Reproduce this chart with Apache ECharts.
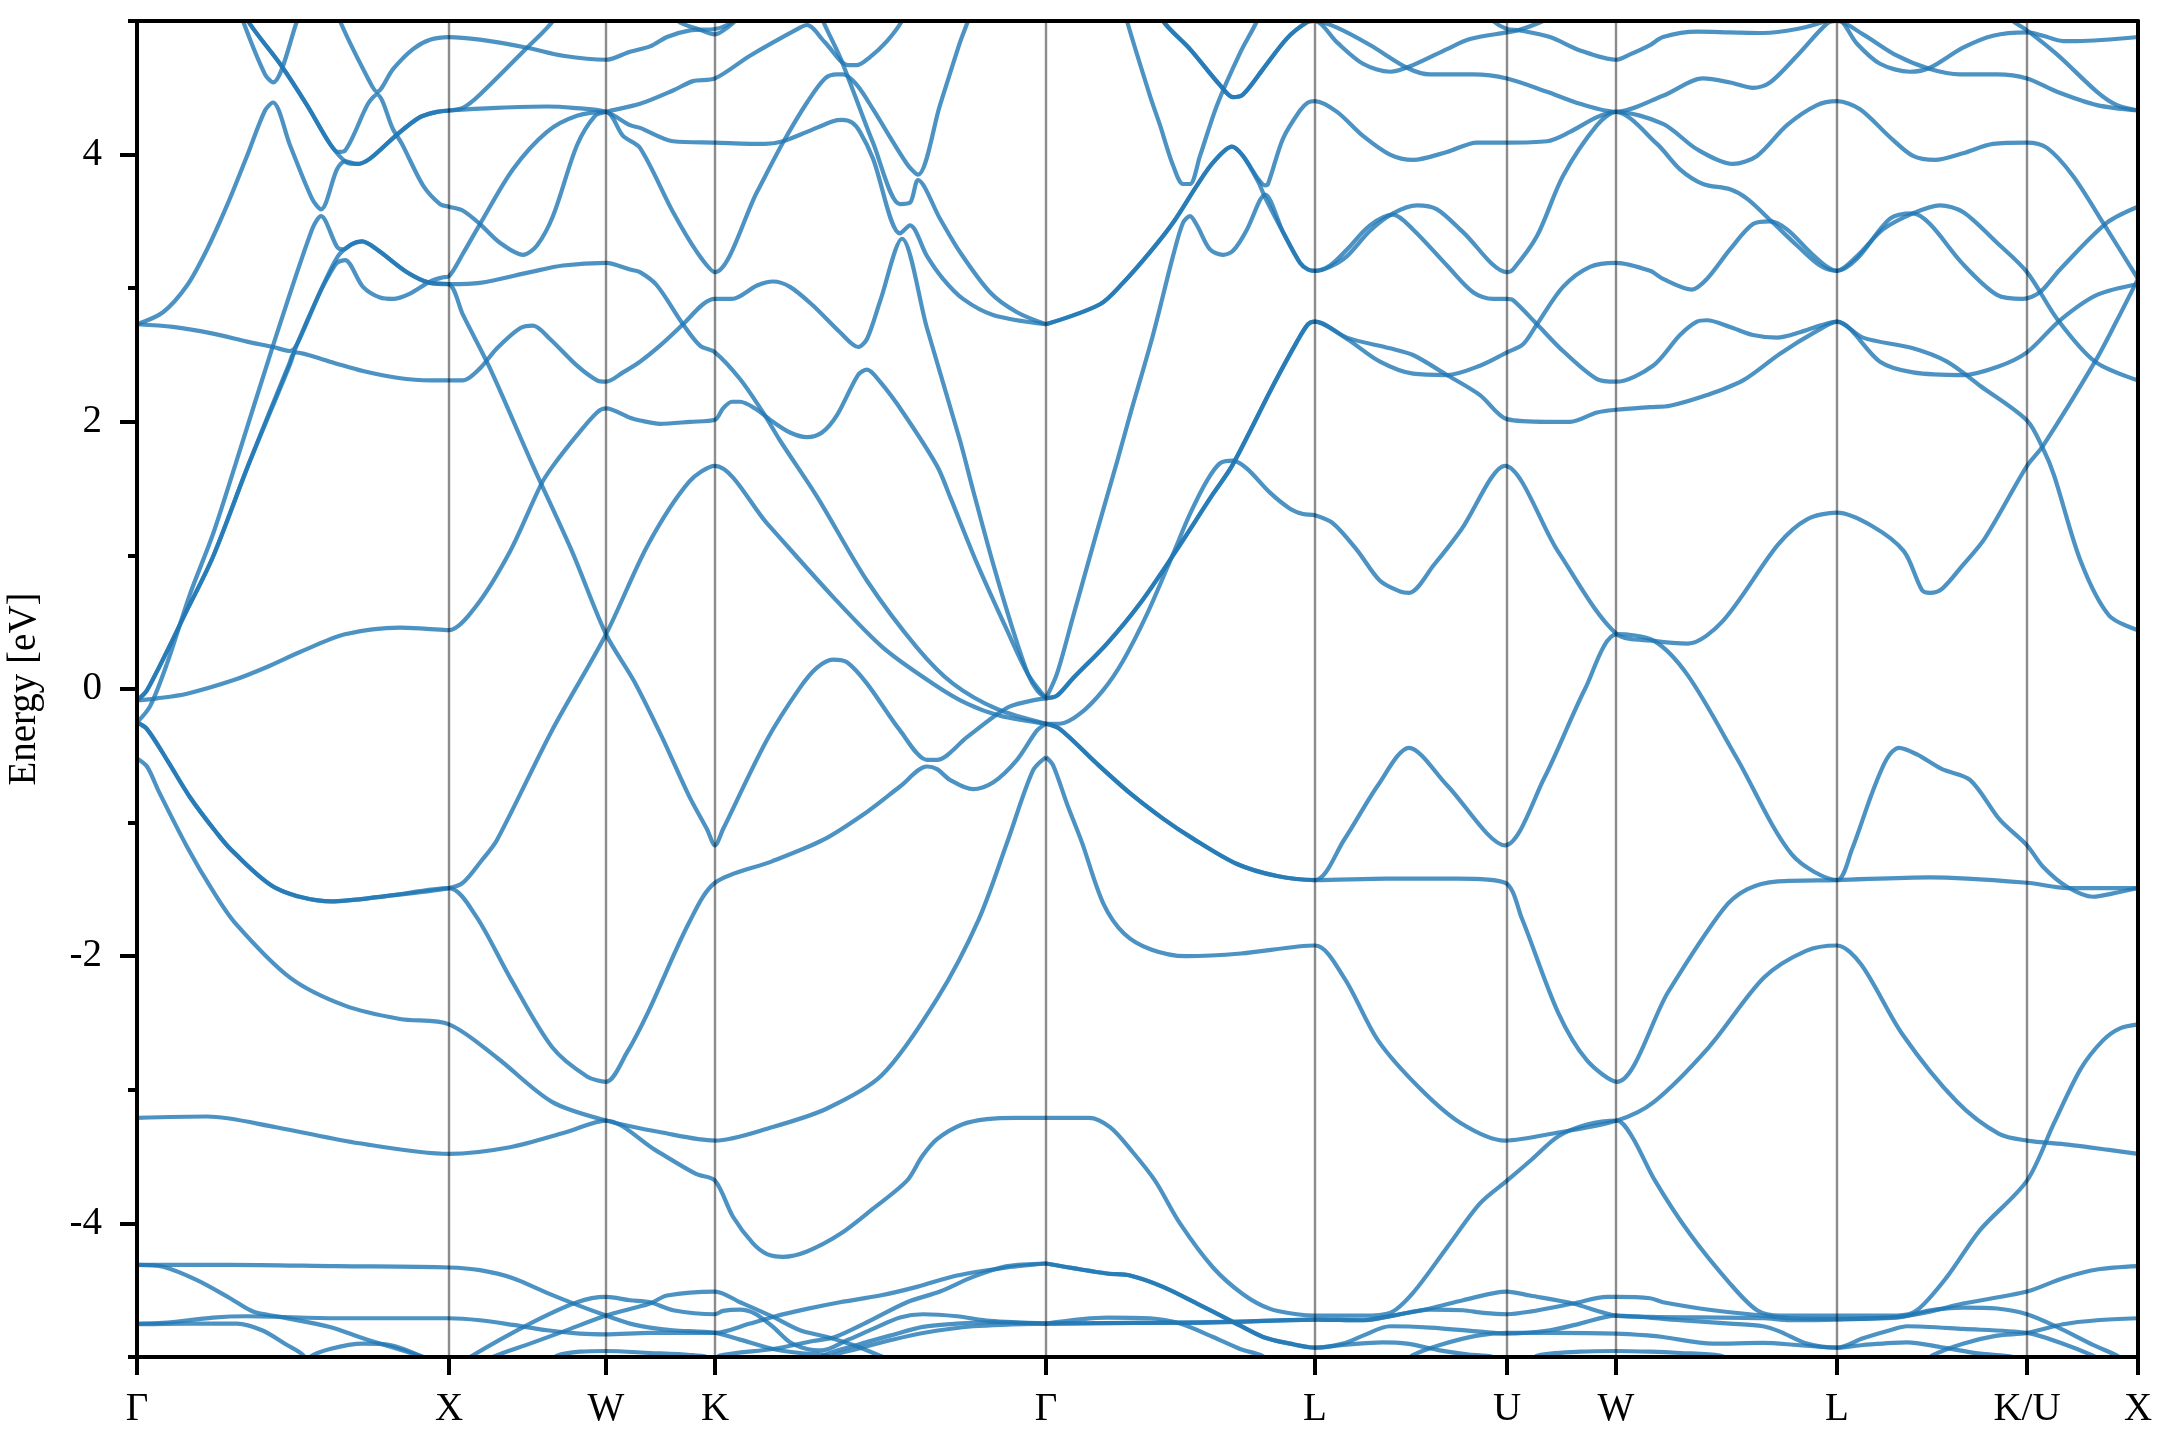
<!DOCTYPE html>
<html><head><meta charset="utf-8">
<style>html,body{margin:0;padding:0;background:#fff}#c{width:2160px;height:1440px}</style>
<script src="https://cdn.jsdelivr.net/npm/echarts@6/dist/echarts.min.js"></script>
</head><body><div id="c"></div>
<script>
// high-symmetry points along the k-path (path distance, arbitrary units)
const pathTicks = [0,312,469,578,909,1178,1370,1479,1700,1890,2001];
const pathLabels = ['Γ','X','W','K','Γ','L','U','W','L','K/U','X'];
const energyMajor = [-4,-2,0,2,4];
const energyMinor = [-5,-3,-1,1,3,5];

// ---- Γ → X → W → K → Γ : upper bands ----
const a01 = [[190,5.3],[203,5.0],[231,4.57],[240,4.47],[256,4.64],[276,4.79],[293,4.86],[312,4.88],[343,4.86],[390,4.80],[426,4.74],[469,4.71],[493,4.77],[513,4.81],[530,4.88],[553,4.93],[578,4.94],[590,4.97],[605,5.05]];
const a02 = [[100,5.2],[111,5.0],[143,4.68],[170,4.37],[193,4.08],[210,3.94],[220,3.93],[233,3.97],[260,4.15],[283,4.28],[300,4.32],[312,4.33],[326,4.35],[343,4.45],[390,4.80],[416,5.0],[430,5.2]];
const a03 = [[530,5.15],[541,5.0],[561,4.94],[578,4.90],[592,4.96],[605,5.05]];
const a04 = [[100,5.2],[111,5.0],[143,4.68],[170,4.37],[193,4.08],[201,4.02],[208,4.03],[231,4.38],[240,4.45],[256,4.19],[265,4.08],[286,3.77],[303,3.63],[312,3.61],[326,3.58],[343,3.48],[363,3.34],[386,3.25],[400,3.32],[416,3.54],[440,4.07],[458,4.29],[469,4.32],[503,4.38],[536,4.48],[556,4.55],[578,4.57],[613,4.74],[663,4.95],[670,4.97],[688,4.84],[711,4.67],[720,4.67],[733,4.73],[750,4.85],[765,5.0],[778,5.2]];
const a05 = [[0,2.73],[26,2.82],[50,3.02],[70,3.29],[90,3.62],[110,3.99],[128,4.33],[136,4.39],[153,4.07],[175,3.67],[184,3.59],[200,3.89],[208,3.95],[220,3.93],[233,3.97],[260,4.15],[283,4.28],[300,4.32],[312,4.33],[360,4.35],[410,4.36],[436,4.35],[469,4.32],[493,4.22],[503,4.20],[536,4.10],[578,4.09],[628,4.08],[646,4.10],[670,4.17],[696,4.25],[705,4.26],[715,4.24],[723,4.17],[736,3.97],[763,3.41],[773,3.47],[790,3.24],[806,3.07],[826,2.92],[856,2.80],[909,2.73]];
const a06 = [[0,-0.085],[10,-0.01],[50,0.59],[76,0.99],[111,1.67],[153,2.43],[160,2.58],[183,2.97],[193,3.11],[200,3.19],[208,3.21],[226,3.01],[243,2.93],[256,2.92],[273,2.96],[293,3.05],[305,3.08],[312,3.09],[326,3.26],[343,3.48],[376,3.89],[410,4.17],[440,4.29],[469,4.32],[486,4.14],[503,4.05],[536,3.57],[560,3.27],[578,3.12],[620,3.72],[646,4.09],[670,4.39],[688,4.57],[700,4.60],[706,4.60],[720,4.52],[736,4.34],[770,3.93],[781,3.85],[803,4.37],[823,4.84],[831,5.0],[845,5.3]];
const a07 = [[0,-0.085],[10,-0.01],[50,0.59],[76,0.99],[111,1.67],[153,2.45],[158,2.52],[193,2.45],[226,2.38],[260,2.33],[293,2.31],[312,2.31],[326,2.31],[343,2.40],[360,2.55],[383,2.70],[396,2.72],[413,2.62],[440,2.42],[460,2.31],[469,2.30],[486,2.37],[503,2.45],[523,2.57],[546,2.73],[566,2.88],[578,2.92],[586,2.92],[595,2.92],[620,3.02],[636,3.05],[653,3.01],[676,2.87],[703,2.67],[721,2.56],[730,2.62],[743,2.90],[765,3.37],[790,2.70],[823,1.86],[836,1.49],[856,0.94],[876,0.44],[891,0.11],[900,-0.01],[909,-0.07]];
const a08 = [[0,-0.25],[13,-0.13],[30,0.19],[53,0.71],[76,1.16],[98,1.67],[136,2.57],[175,3.44],[184,3.54],[200,3.31],[206,3.29],[215,3.33],[225,3.35],[240,3.29],[270,3.12],[293,3.04],[312,3.03],[343,3.04],[393,3.12],[426,3.17],[469,3.19],[493,3.14],[503,3.12],[520,3.02],[546,2.73],[563,2.57],[578,2.52],[603,2.32],[626,2.07],[643,1.86],[680,1.44],[730,0.81],[780,0.31],[816,0.04],[860,-0.15],[909,-0.26]];
const a09 = [[0,2.73],[36,2.71],[76,2.66],[110,2.60],[136,2.56],[153,2.53],[160,2.58],[183,2.97],[201,3.24],[215,3.33],[225,3.35],[240,3.29],[270,3.12],[293,3.04],[312,3.03],[326,2.80],[353,2.40],[396,1.67],[435,1.03],[469,0.41],[497,0.06],[525,-0.36],[552,-0.80],[570,-1.05],[578,-1.17],[586,-1.05],[630,-0.38],[663,0.01],[680,0.16],[696,0.22],[710,0.20],[730,0.04],[763,-0.31],[790,-0.53],[800,-0.53],[830,-0.36],[858,-0.20],[873,-0.13],[896,-0.085],[909,-0.07]];
const a10 = [[98,5.2],[106,5.0],[128,4.60],[136,4.54],[160,5.0],[168,5.2]];
const a11 = [[670,5.3],[686,5.0],[703,4.73],[716,4.48],[736,4.09],[763,3.63],[773,3.64],[781,3.81],[803,3.52],[823,3.27],[853,2.97],[880,2.82],[909,2.73]];
const a12 = [[0,-0.085],[20,-0.07],[50,-0.035],[96,0.065],[130,0.165],[163,0.277],[208,0.41],[263,0.46],[290,0.45],[312,0.44],[339,0.62],[373,1.03],[404,1.53],[416,1.67],[440,1.90],[460,2.07],[469,2.10],[493,2.03],[503,2.01],[523,1.985],[553,2.0],[578,2.015],[586,2.10],[595,2.15],[603,2.15],[618,2.10],[636,2.0],[653,1.92],[670,1.885],[685,1.92],[700,2.05],[721,2.35],[730,2.39],[743,2.30],[766,2.07],[800,1.67],[813,1.44],[840,0.94],[870,0.44],[891,0.11],[909,-0.07]];
// ---- Γ → X → W → K → Γ : middle bands ----
const a13 = [[0,-0.25],[10,-0.30],[30,-0.53],[53,-0.81],[80,-1.08],[95,-1.21],[139,-1.49],[194,-1.59],[249,-1.55],[312,-1.49],[326,-1.45],[345,-1.28],[360,-1.13],[415,-0.31],[469,0.41],[511,1.08],[552,1.55],[578,1.67],[630,1.24],[696,0.69],[746,0.31],[796,0.04],[830,-0.11],[863,-0.20],[909,-0.26]];
const a14 = [[0,-0.25],[10,-0.30],[30,-0.53],[53,-0.81],[80,-1.08],[95,-1.21],[139,-1.49],[194,-1.59],[249,-1.55],[312,-1.49],[339,-1.70],[373,-2.16],[415,-2.68],[450,-2.90],[469,-2.94],[490,-2.72],[511,-2.42],[552,-1.75],[578,-1.45],[635,-1.29],[686,-1.13],[730,-0.92],[763,-0.73],[790,-0.58],[800,-0.60],[813,-0.68],[836,-0.75],[856,-0.70],[880,-0.53],[900,-0.31],[909,-0.26]];
const a15 = [[0,-0.52],[10,-0.58],[22,-0.77],[50,-1.18],[75,-1.5],[98,-1.75],[153,-2.16],[208,-2.37],[263,-2.47],[312,-2.51],[360,-2.76],[415,-3.09],[469,-3.23],[525,-3.32],[578,-3.38],[635,-3.28],[690,-3.14],[745,-2.89],[800,-2.32],[842,-1.72],[871,-1.13],[896,-0.61],[909,-0.51]];
const a16 = [[0,-3.21],[70,-3.20],[139,-3.28],[222,-3.40],[312,-3.48],[373,-3.43],[428,-3.32],[469,-3.23],[518,-3.45],[559,-3.63],[578,-3.68],[596,-3.95],[616,-4.15],[630,-4.23],[646,-4.25],[670,-4.21],[703,-4.08],[736,-3.89],[770,-3.68],[785,-3.50],[800,-3.37],[825,-3.26],[850,-3.22],[880,-3.21],[909,-3.21]];
// ---- Γ → X → W → K → Γ : lower bands ----
const a17 = [[0,-4.31],[93,-4.31],[200,-4.32],[312,-4.33],[343,-4.35],[376,-4.41],[410,-4.52],[440,-4.61],[469,-4.69],[493,-4.75],[513,-4.78],[536,-4.80],[578,-4.82],[603,-4.87],[636,-4.94],[663,-4.97],[683,-4.98],[693,-5.0],[705,-5.1]];
const a18 = [[0,-4.31],[26,-4.325],[60,-4.425],[93,-4.56],[116,-4.66],[143,-4.70],[193,-4.775],[226,-4.86],[286,-5.0],[300,-5.05]];
const a19 = [[0,-4.75],[26,-4.745],[76,-4.705],[110,-4.695],[200,-4.71],[312,-4.71],[343,-4.725],[376,-4.76],[410,-4.80],[443,-4.825],[469,-4.83],[513,-4.82],[578,-4.82],[613,-4.75],[636,-4.70],[670,-4.64],[703,-4.59],[743,-4.54],[780,-4.475],[820,-4.39],[870,-4.33],[909,-4.30]];
const a20 = [[0,-4.755],[50,-4.75],[100,-4.75],[125,-4.80],[150,-4.91],[166,-4.985],[175,-5.1]];
const a21 = [[165,-5.1],[173,-5.0],[193,-4.94],[226,-4.90],[253,-4.91],[286,-5.0],[296,-5.05]];
const a22 = [[326,-5.05],[333,-5.0],[393,-4.75],[440,-4.59],[469,-4.55],[493,-4.575],[513,-4.59],[536,-4.65],[578,-4.68],[586,-4.655],[603,-4.645],[618,-4.675],[636,-4.775],[653,-4.89],[670,-4.94],[685,-4.95],[710,-4.875],[736,-4.79],[763,-4.705],[786,-4.68],[820,-4.695],[853,-4.73],[909,-4.75]];
const a23 = [[350,-5.05],[356,-5.0],[393,-4.90],[426,-4.81],[469,-4.69],[493,-4.64],[513,-4.60],[530,-4.54],[578,-4.51],[603,-4.59],[636,-4.70],[663,-4.80],[690,-4.85],[716,-4.91],[746,-5.0],[760,-5.05]];
const a24 = [[410,-5.05],[420,-4.99],[443,-4.96],[469,-4.955],[513,-4.97],[553,-4.985],[570,-5.0],[585,-5.05]];
const a25 = [[575,-5.05],[583,-4.99],[636,-4.94],[676,-4.88],[698,-4.85],[730,-4.74],[770,-4.59],[803,-4.51],[836,-4.40],[870,-4.32],[909,-4.30]];
const a26 = [[680,-5.05],[686,-4.99],[720,-4.91],[753,-4.84],[786,-4.775],[820,-4.75],[853,-4.74],[909,-4.75]];
const a27 = [[690,-5.05],[696,-4.99],[720,-4.94],[753,-4.875],[786,-4.82],[836,-4.77],[909,-4.75]];

// ---- Γ → L → U → W → L → K/U → X : upper bands ----
const b01 = [[1015,5.2],[1026,5.0],[1053,4.79],[1083,4.52],[1096,4.43],[1106,4.45],[1126,4.64],[1150,4.87],[1170,4.99],[1178,5.0],[1200,4.84],[1226,4.68],[1253,4.62],[1276,4.67],[1310,4.79],[1333,4.865],[1370,4.915],[1381,4.93],[1406,5.0],[1430,5.1]];
const b02 = [[1015,5.2],[1026,5.0],[1053,4.79],[1083,4.52],[1096,4.43],[1106,4.45],[1126,4.64],[1150,4.87],[1170,4.99],[1178,5.0],[1200,4.95],[1233,4.82],[1270,4.65],[1293,4.60],[1336,4.60],[1370,4.57],[1410,4.47],[1443,4.38],[1479,4.32],[1526,4.44],[1566,4.57],[1593,4.54],[1616,4.50],[1633,4.54],[1660,4.74],[1690,4.98],[1700,5.0],[1726,4.90],[1760,4.74],[1793,4.64],[1823,4.60],[1860,4.60],[1890,4.57],[1920,4.47],[1960,4.37],[2001,4.33]];
const b03 = [[1345,5.1],[1356,5.0],[1370,4.94],[1383,4.93],[1413,4.88],[1443,4.78],[1479,4.71],[1493,4.75],[1513,4.82],[1526,4.88],[1560,4.92],[1593,4.915],[1626,4.91],[1660,4.94],[1690,5.0],[1700,5.02],[1720,4.83],[1743,4.68],[1773,4.62],[1793,4.65],[1826,4.80],[1856,4.89],[1890,4.915],[1906,4.89],[1926,4.85],[1940,4.85],[2001,4.88]];
const b04 = [[1866,5.1],[1876,5.0],[1890,4.93],[1920,4.75],[1960,4.47],[1980,4.37],[2001,4.33]];
const b05 = [[980,5.3],[990,5.0],[1013,4.44],[1023,4.22],[1036,3.92],[1046,3.78],[1053,3.78],[1063,3.99],[1080,4.37],[1103,4.76],[1120,5.0],[1130,5.2]];
const b06 = [[909,2.73],[963,2.88],[986,3.04],[1013,3.27],[1036,3.49],[1060,3.77],[1076,3.94],[1095,4.06],[1106,3.99],[1121,3.82],[1128,3.77],[1131,3.78],[1146,4.12],[1163,4.33],[1171,4.39],[1178,4.40],[1200,4.32],[1226,4.14],[1253,4.0],[1276,3.96],[1310,4.02],[1340,4.09],[1370,4.09],[1410,4.10],[1433,4.17],[1460,4.28],[1479,4.32],[1526,4.23],[1560,4.04],[1596,3.93],[1620,3.99],[1650,4.22],[1680,4.37],[1700,4.40],[1723,4.34],[1753,4.13],[1776,3.99],[1798,3.96],[1826,4.01],[1856,4.08],[1890,4.09],[1910,4.05],[1936,3.84],[1966,3.49],[2001,3.07]];
const b07 = [[909,2.73],[963,2.88],[986,3.04],[1013,3.27],[1036,3.49],[1060,3.77],[1076,3.94],[1095,4.06],[1106,3.99],[1121,3.80],[1128,3.68],[1146,3.42],[1163,3.19],[1171,3.14],[1178,3.13],[1193,3.17],[1210,3.29],[1233,3.47],[1256,3.55],[1276,3.44],[1310,3.17],[1336,2.97],[1356,2.92],[1370,2.92],[1376,2.91],[1400,2.73],[1426,2.53],[1460,2.32],[1479,2.30],[1516,2.42],[1543,2.65],[1560,2.75],[1570,2.76],[1593,2.71],[1616,2.65],[1640,2.63],[1663,2.67],[1683,2.72],[1700,2.75],[1726,2.63],[1776,2.55],[1810,2.45],[1843,2.27],[1890,2.01],[1906,1.80],[1917,1.60],[1944,0.95],[1972,0.55],[2001,0.44]];
const b08 = [[909,-0.07],[920,0.115],[936,0.54],[960,1.18],[980,1.70],[993,2.05],[1016,2.65],[1036,3.24],[1046,3.49],[1053,3.54],[1060,3.47],[1073,3.29],[1086,3.25],[1096,3.28],[1110,3.44],[1123,3.66],[1128,3.70],[1146,3.42],[1163,3.19],[1171,3.14],[1178,3.13],[1193,3.16],[1210,3.24],[1233,3.43],[1256,3.56],[1280,3.62],[1300,3.59],[1326,3.42],[1370,3.12],[1376,3.14],[1400,3.39],[1426,3.84],[1460,4.22],[1479,4.32],[1520,4.08],[1543,3.89],[1566,3.78],[1593,3.74],[1610,3.67],[1636,3.49],[1660,3.32],[1683,3.17],[1700,3.13],[1720,3.22],[1753,3.52],[1776,3.56],[1793,3.48],[1826,3.18],[1860,2.95],[1886,2.92],[1903,2.97],[1923,3.14],[1970,3.49],[2001,3.61]];
const b09 = [[909,-0.07],[920,-0.05],[936,0.08],[970,0.34],[1003,0.64],[1036,1.0],[1076,1.46],[1095,1.67],[1136,2.27],[1160,2.60],[1171,2.73],[1178,2.75],[1210,2.62],[1243,2.45],[1276,2.36],[1310,2.35],[1343,2.42],[1370,2.52],[1386,2.58],[1400,2.73],[1426,3.01],[1453,3.16],[1479,3.19],[1513,3.13],[1526,3.07],[1555,2.99],[1570,3.07],[1593,3.29],[1616,3.48],[1633,3.50],[1650,3.44],[1673,3.27],[1690,3.16],[1700,3.13],[1720,3.24],[1746,3.44],[1776,3.56],[1803,3.62],[1826,3.57],[1860,3.34],[1890,3.12],[1921,2.76],[1958,2.45],[2001,2.31]];
const b10 = [[909,-0.07],[920,-0.05],[936,0.08],[970,0.34],[1003,0.64],[1036,1.0],[1076,1.46],[1095,1.67],[1136,2.27],[1160,2.60],[1171,2.73],[1178,2.75],[1210,2.63],[1253,2.55],[1276,2.50],[1310,2.35],[1343,2.20],[1370,2.02],[1410,2.0],[1433,2.0],[1460,2.07],[1479,2.09],[1513,2.11],[1533,2.12],[1570,2.20],[1606,2.31],[1643,2.51],[1680,2.68],[1700,2.75],[1743,2.45],[1776,2.37],[1826,2.35],[1860,2.41],[1890,2.52],[1923,2.76],[1960,2.95],[2001,3.03]];
// ---- Γ → L → U → W → L → K/U → X : middle bands ----
const b11 = [[909,-0.26],[923,-0.26],[943,-0.185],[966,-0.01],[986,0.21],[1010,0.56],[1036,1.01],[1053,1.31],[1070,1.56],[1083,1.69],[1096,1.71],[1110,1.65],[1133,1.47],[1153,1.35],[1166,1.31],[1178,1.30],[1196,1.24],[1220,1.04],[1243,0.81],[1263,0.73],[1272,0.72],[1297,0.93],[1324,1.19],[1368,1.67],[1421,1.03],[1480,0.41],[1517,0.36],[1551,0.34],[1586,0.51],[1641,1.08],[1670,1.27],[1700,1.32],[1735,1.22],[1767,1.03],[1785,0.74],[1793,0.72],[1805,0.75],[1825,0.92],[1848,1.13],[1890,1.67],[1906,1.82],[1958,2.45],[1980,2.76],[2001,3.07]];
const b12 = [[909,-0.26],[923,-0.30],[960,-0.56],[993,-0.78],[1026,-0.97],[1056,-1.12],[1100,-1.31],[1140,-1.40],[1178,-1.43],[1207,-1.13],[1241,-0.72],[1272,-0.44],[1310,-0.72],[1368,-1.17],[1407,-0.67],[1448,0],[1480,0.41],[1517,0.36],[1551,0.10],[1600,-0.52],[1655,-1.24],[1700,-1.43],[1715,-1.2],[1735,-0.78],[1750,-0.52],[1762,-0.44],[1780,-0.49],[1805,-0.60],[1833,-0.68],[1863,-0.98],[1890,-1.17],[1906,-1.33],[1930,-1.48],[1956,-1.555],[1976,-1.53],[2001,-1.49]];
const b13 = [[909,-0.26],[923,-0.30],[960,-0.56],[993,-0.78],[1026,-0.97],[1056,-1.12],[1100,-1.31],[1140,-1.40],[1178,-1.43],[1250,-1.42],[1320,-1.42],[1368,-1.45],[1385,-1.72],[1421,-2.42],[1450,-2.78],[1480,-2.94],[1531,-2.27],[1586,-1.65],[1610,-1.50],[1641,-1.44],[1700,-1.43],[1793,-1.41],[1890,-1.45],[1931,-1.49],[2001,-1.49]];
const b14 = [[909,-0.51],[916,-0.57],[930,-0.86],[945,-1.15],[966,-1.60],[987,-1.83],[1014,-1.95],[1049,-2.0],[1104,-1.98],[1178,-1.92],[1207,-2.16],[1241,-2.63],[1283,-2.99],[1324,-3.25],[1368,-3.38],[1421,-3.32],[1480,-3.23],[1517,-3.09],[1572,-2.68],[1627,-2.16],[1669,-1.96],[1700,-1.92],[1724,-2.06],[1765,-2.58],[1820,-3.09],[1862,-3.33],[1890,-3.38],[1931,-3.41],[1972,-3.45],[2001,-3.48]];
const b15 = [[909,-3.21],[952,-3.21],[973,-3.28],[995,-3.46],[1018,-3.68],[1043,-4.0],[1076,-4.33],[1106,-4.53],[1133,-4.64],[1160,-4.68],[1178,-4.69],[1226,-4.69],[1253,-4.67],[1276,-4.52],[1310,-4.18],[1343,-3.85],[1370,-3.68],[1395,-3.52],[1421,-3.35],[1450,-3.26],[1480,-3.23],[1495,-3.35],[1518,-3.68],[1553,-4.08],[1593,-4.45],[1620,-4.65],[1643,-4.69],[1700,-4.69],[1760,-4.69],[1780,-4.65],[1810,-4.40],[1843,-4.05],[1890,-3.68],[1917,-3.25],[1944,-2.84],[1966,-2.63],[1983,-2.54],[2001,-2.51]];
// ---- Γ → L → U → W → L → K/U → X : lower bands ----
const b16 = [[909,-4.30],[970,-4.375],[993,-4.39],[1026,-4.475],[1060,-4.60],[1093,-4.725],[1126,-4.85],[1153,-4.90],[1178,-4.93],[1206,-4.90],[1226,-4.84],[1253,-4.77],[1293,-4.78],[1343,-4.81],[1370,-4.825],[1413,-4.80],[1443,-4.75],[1479,-4.69],[1543,-4.725],[1593,-4.75],[1626,-4.77],[1643,-4.81],[1670,-4.90],[1700,-4.93],[1726,-4.86],[1753,-4.80],[1770,-4.77],[1826,-4.79],[1890,-4.82],[1926,-4.90],[1956,-4.99],[1970,-5.05]];
const b17 = [[909,-4.30],[970,-4.375],[993,-4.39],[1026,-4.475],[1060,-4.60],[1093,-4.725],[1126,-4.85],[1153,-4.90],[1178,-4.93],[1206,-4.91],[1246,-4.89],[1270,-4.90],[1303,-4.95],[1330,-4.98],[1356,-5.0],[1370,-5.05]];
const b18 = [[909,-4.75],[970,-4.705],[1013,-4.71],[1043,-4.75],[1076,-4.85],[1103,-4.94],[1125,-4.99],[1135,-5.05]];
const b19 = [[909,-4.75],[1000,-4.745],[1060,-4.745],[1106,-4.735],[1178,-4.72],[1226,-4.725],[1256,-4.69],[1293,-4.645],[1326,-4.65],[1346,-4.67],[1370,-4.68],[1393,-4.66],[1436,-4.60],[1470,-4.55],[1479,-4.55],[1513,-4.56],[1526,-4.59],[1576,-4.65],[1626,-4.69],[1653,-4.71],[1700,-4.715],[1760,-4.705],[1793,-4.65],[1826,-4.63],[1860,-4.637],[1890,-4.68],[1920,-4.775],[1956,-4.91],[1980,-4.99],[1990,-5.05]];
const b20 = [[909,-4.75],[1000,-4.745],[1106,-4.735],[1178,-4.72],[1226,-4.725],[1256,-4.69],[1293,-4.637],[1326,-4.575],[1370,-4.51],[1393,-4.54],[1436,-4.60],[1479,-4.69],[1513,-4.70],[1626,-4.71],[1653,-4.725],[1700,-4.72],[1760,-4.70],[1793,-4.66],[1826,-4.60],[1890,-4.51],[1926,-4.41],[1960,-4.345],[2001,-4.32]];
const b21 = [[1270,-5.05],[1275,-4.99],[1303,-4.91],[1340,-4.84],[1370,-4.82],[1413,-4.82],[1479,-4.825],[1513,-4.84],[1526,-4.85],[1576,-4.90],[1626,-4.895],[1660,-4.91],[1700,-4.93],[1726,-4.91],[1770,-4.89],[1803,-4.925],[1843,-4.975],[1876,-5.0],[1890,-5.05]];
const b22 = [[1395,-5.05],[1400,-4.99],[1443,-4.96],[1479,-4.955],[1513,-4.96],[1543,-4.97],[1583,-4.99],[1600,-5.05]];
const b23 = [[1790,-5.05],[1795,-4.99],[1826,-4.90],[1860,-4.84],[1890,-4.82],[1926,-4.755],[1960,-4.725],[2001,-4.71]];

const bands = [a01,a02,a03,a04,a05,a06,a07,a08,a09,a10,a11,a12,a13,a14,a15,a16,a17,a18,a19,a20,a21,a22,a23,a24,a25,a26,a27,
               b01,b02,b03,b04,b05,b06,b07,b08,b09,b10,b11,b12,b13,b14,b15,b16,b17,b18,b19,b20,b21,b22,b23];

const FONT = 'Liberation Serif';
const series = bands.map(d => ({
  type:'line', data:d, symbol:'none', silent:true, animation:false, clip:true,
  smooth:0.3, connectNulls:false, z:3,
  lineStyle:{color:'#1f77b4', width:4.2, opacity:0.8, cap:'butt', join:'round'}
}));
pathTicks.slice(1,-1).forEach(t => series.push({
  type:'line', data:[[t,-5],[t,5]], symbol:'none', silent:true, animation:false, z:4,
  lineStyle:{color:'#000', width:2.4, opacity:0.45}
}));

const chart = echarts.init(document.getElementById('c'), null, {renderer:'canvas'});
chart.setOption({
  backgroundColor:'#fff', animation:false,
  grid:{left:137, right:22, top:21, bottom:83, containLabel:false, outerBoundsMode:'none'},
  xAxis:[
    {type:'value', min:0, max:2001, position:'bottom', z:10,
     axisLine:{show:true,onZero:false,lineStyle:{color:'#000',width:4}},
     axisTick:{show:true,length:18,customValues:pathTicks,lineStyle:{color:'#000',width:4}},
     axisLabel:{show:true,customValues:pathTicks,margin:33,color:'#000',fontFamily:FONT,fontSize:39,hideOverlap:false,
       formatter:v=>pathLabels[pathTicks.indexOf(v)]},
     splitLine:{show:false}},
    {type:'value', min:0, max:2001, position:'top', z:10,
     axisLine:{show:true,onZero:false,lineStyle:{color:'#000',width:4}},
     axisTick:{show:false},axisLabel:{show:false},splitLine:{show:false}}
  ],
  yAxis:[
    {type:'value', min:-5, max:5, position:'left', z:10,
     name:'Energy [eV]', nameLocation:'middle', nameGap:93, nameRotate:90,
     nameTextStyle:{color:'#000',fontFamily:FONT,fontSize:39},
     axisLine:{show:true,onZero:false,lineStyle:{color:'#000',width:4}},
     axisTick:{show:true,length:17,customValues:energyMajor,lineStyle:{color:'#000',width:4}},
     axisLabel:{show:true,customValues:energyMajor,margin:35,color:'#000',fontFamily:FONT,fontSize:39,
       formatter:v=>String(v)},
     splitLine:{show:false}},
    {type:'value', min:-5, max:5, position:'left', offset:0, z:10,
     axisLine:{show:false},
     axisTick:{show:true,length:9,customValues:energyMinor,lineStyle:{color:'#000',width:4}},
     axisLabel:{show:false},splitLine:{show:false}},
    {type:'value', min:-5, max:5, position:'right', z:10,
     axisLine:{show:true,onZero:false,lineStyle:{color:'#000',width:4}},
     axisTick:{show:false},axisLabel:{show:false},splitLine:{show:false}}
  ],
  series
});
</script></body></html>
